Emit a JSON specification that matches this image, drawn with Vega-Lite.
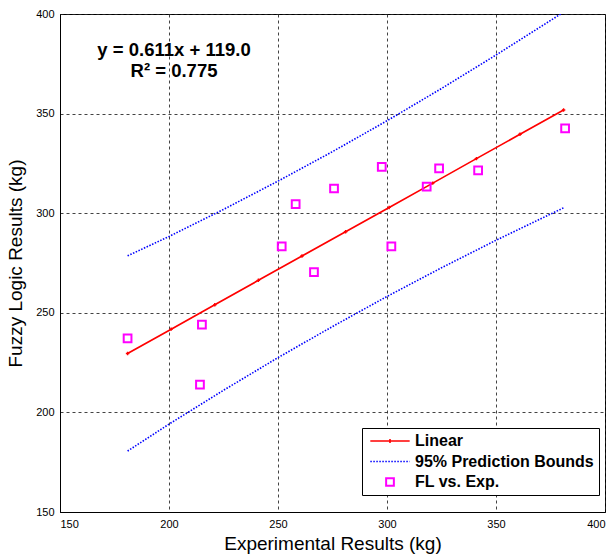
{
  "$schema": "https://vega.github.io/schema/vega-lite/v6.json",
  "width": 545,
  "height": 498,
  "autosize": {"type": "none"},
  "padding": {"left": 60, "top": 14, "right": 11, "bottom": 44},
  "background": "white",
  "config": {
    "font": "Liberation Sans",
    "view": {"stroke": "black", "strokeWidth": 1},
    "axis": {
      "domainColor": "black",
      "gridColor": "#222222",
      "gridDash": [3, 3],
      "gridWidth": 1,
      "gridOpacity": 0.85,
      "ticks": false,
      "labelFont": "Liberation Sans",
      "labelFontSize": 11,
      "labelColor": "black",
      "labelPadding": 6,
      "titleFont": "Liberation Sans",
      "titleFontSize": 19,
      "titleFontWeight": "normal",
      "titleColor": "black"
    }
  },
  "datasets": {
    "points": [
      {"x": 181.0, "y": 237.2},
      {"x": 215.1, "y": 244.1},
      {"x": 214.2, "y": 213.9},
      {"x": 251.7, "y": 283.4},
      {"x": 258.1, "y": 304.5},
      {"x": 266.5, "y": 270.4},
      {"x": 275.7, "y": 312.4},
      {"x": 297.6, "y": 323.3},
      {"x": 302.0, "y": 283.4},
      {"x": 318.2, "y": 313.4},
      {"x": 323.9, "y": 322.5},
      {"x": 341.8, "y": 321.5},
      {"x": 381.7, "y": 342.6}
    ],
    "fit": [
      {"x": 181, "y": 229.6},
      {"x": 201, "y": 241.8},
      {"x": 221, "y": 254.0},
      {"x": 241, "y": 266.3},
      {"x": 261, "y": 278.5},
      {"x": 281, "y": 290.7},
      {"x": 301, "y": 302.9},
      {"x": 321, "y": 315.1},
      {"x": 341, "y": 327.4},
      {"x": 361, "y": 339.6},
      {"x": 381, "y": 351.8}
    ],
    "bounds": [
      {"x": 181, "y": 278.6, "bound": "upper"},
      {"x": 200, "y": 288.3, "bound": "upper"},
      {"x": 225, "y": 301.9, "bound": "upper"},
      {"x": 250, "y": 316.1, "bound": "upper"},
      {"x": 275, "y": 330.9, "bound": "upper"},
      {"x": 300, "y": 346.4, "bound": "upper"},
      {"x": 325, "y": 362.6, "bound": "upper"},
      {"x": 350, "y": 379.4, "bound": "upper"},
      {"x": 381, "y": 400.9, "bound": "upper"},
      {"x": 181, "y": 180.6, "bound": "lower"},
      {"x": 200, "y": 194.1, "bound": "lower"},
      {"x": 225, "y": 211.1, "bound": "lower"},
      {"x": 250, "y": 227.5, "bound": "lower"},
      {"x": 275, "y": 243.1, "bound": "lower"},
      {"x": 300, "y": 258.2, "bound": "lower"},
      {"x": 325, "y": 272.6, "bound": "lower"},
      {"x": 350, "y": 286.4, "bound": "lower"},
      {"x": 381, "y": 302.7, "bound": "lower"}
    ]
  },
  "encoding": {
    "x": {
      "field": "x", "type": "quantitative",
      "scale": {"domain": [150, 400], "nice": false, "zero": false},
      "axis": {"values": [150, 200, 250, 300, 350, 400], "title": "Experimental Results (kg)", "titlePadding": 5}
    },
    "y": {
      "field": "y", "type": "quantitative",
      "scale": {"domain": [150, 400], "nice": false, "zero": false},
      "axis": {"values": [150, 200, 250, 300, 350, 400], "title": "Fuzzy Logic Results (kg)", "titlePadding": 10}
    }
  },
  "layer": [
    {
      "data": {"name": "bounds"},
      "mark": {"type": "line", "strokeDash": [1.5, 1.5], "strokeWidth": 1.6, "clip": true},
      "encoding": {
        "detail": {"field": "bound"},
        "color": {
          "datum": "95% Prediction Bounds",
          "scale": {"domain": ["Linear", "95% Prediction Bounds", "FL vs. Exp."], "range": ["#ff0000", "#0000ff", "#ff00ff"]},
          "legend": {
            "orient": "none",
            "legendX": 302,
            "legendY": 414,
            "title": null,
            "fillColor": "white",
            "strokeColor": "black",
            "padding": 5,
            "rowPadding": 4.5,
            "labelFont": "Liberation Sans",
            "labelFontSize": 16,
            "labelFontWeight": "bold",
            "labelColor": "black",
            "labelLimit": 400,
            "labelOffset": 17,
            "symbolOffset": 15,
            "symbolStrokeWidth": 1.6,
            "encode": {
              "symbols": {
                "update": {
                  "shape": {"signal": "datum.value === 'FL vs. Exp.' ? 'square' : (datum.value === 'Linear' ? 'M-1,0H1M0,-0.1V0.1' : 'stroke')"},
                  "size": {"signal": "datum.value === 'FL vs. Exp.' ? 60 : 1550"},
                  "strokeDash": {"signal": "datum.value === '95% Prediction Bounds' ? [1.5, 1.5] : [1, 0]"},
                  "strokeWidth": {"signal": "datum.value === 'FL vs. Exp.' ? 2 : 1.6"},
                  "fill": {"value": "transparent"},
                  "opacity": {"value": 1}
                }
              }
            }
          }
        }
      }
    },
    {
      "data": {"name": "fit"},
      "mark": {"type": "line", "strokeWidth": 1.7},
      "encoding": {"color": {"datum": "Linear"}}
    },
    {
      "data": {"name": "fit"},
      "mark": {"type": "point", "shape": "cross", "size": 12, "filled": true, "color": "#ff0000", "opacity": 1}
    },
    {
      "data": {"name": "points"},
      "mark": {"type": "point", "shape": "square", "filled": false, "size": 60, "strokeWidth": 2, "opacity": 1},
      "encoding": {"color": {"datum": "FL vs. Exp."}}
    },
    {
      "data": {"values": [{"label": "y = 0.611x + 119.0", "tx": 202.3, "ty": 379.0}, {"label": "R² = 0.775", "tx": 202.3, "ty": 368.5}]},
      "mark": {"type": "text", "font": "Liberation Sans", "fontSize": 18.5, "fontWeight": "bold", "align": "center", "baseline": "alphabetic", "color": "black"},
      "encoding": {
        "x": {"field": "tx", "type": "quantitative"},
        "y": {"field": "ty", "type": "quantitative"},
        "text": {"field": "label"}
      }
    }
  ]
}
